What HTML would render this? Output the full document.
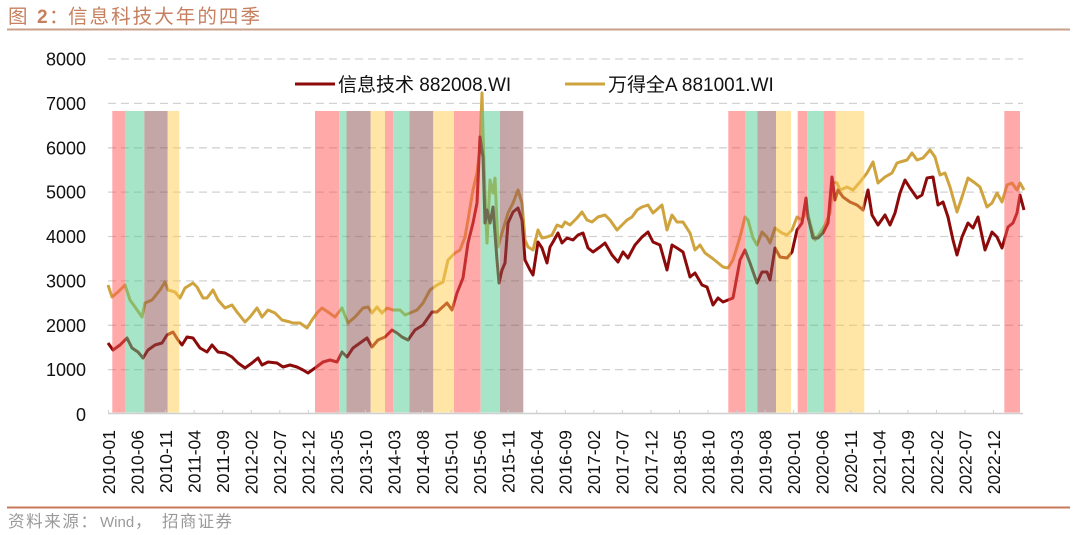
<!DOCTYPE html>
<html>
<head>
<meta charset="utf-8">
<style>
html,body{margin:0;padding:0;background:#fff;}
svg{display:block;}
</style>
</head>
<body>
<svg width="1080" height="535" viewBox="0 0 1080 535" xmlns="http://www.w3.org/2000/svg">
<rect x="0" y="0" width="1080" height="535" fill="#fff"/>
<!-- Title -->
<g font-family="'Liberation Sans','Noto Sans CJK SC',sans-serif" fill="#c6805f">
  <text x="8" y="23" font-size="19.5" font-family="'Noto Sans CJK SC',sans-serif">图</text>
  <text x="37" y="23" font-size="19" font-weight="bold">2</text>
  <text x="49" y="23" font-size="19.5" font-family="'Noto Sans CJK SC',sans-serif">：</text>
  <text x="68" y="23" font-size="19.5" font-family="'Noto Sans CJK SC',sans-serif" textLength="192">信息科技大年的四季</text>
</g>
<line x1="7" y1="29.5" x2="1070" y2="29.5" stroke="#c9a088" stroke-width="2"/>

<!-- gridlines -->
<g stroke="#d2d2d2" stroke-width="1.3" stroke-dasharray="8,5">
  <line x1="108" y1="59" x2="1023" y2="59"/>
  <line x1="108" y1="103.4" x2="1023" y2="103.4"/>
  <line x1="108" y1="147.8" x2="1023" y2="147.8"/>
  <line x1="108" y1="192.1" x2="1023" y2="192.1"/>
  <line x1="108" y1="236.5" x2="1023" y2="236.5"/>
  <line x1="108" y1="280.9" x2="1023" y2="280.9"/>
  <line x1="108" y1="325.3" x2="1023" y2="325.3"/>
  <line x1="108" y1="369.6" x2="1023" y2="369.6"/>
</g>

<!-- y labels -->
<g font-family="'Liberation Sans',sans-serif" font-size="18" fill="#111" text-anchor="end">
  <text x="86" y="65.5">8000</text>
  <text x="86" y="109.9">7000</text>
  <text x="86" y="154.3">6000</text>
  <text x="86" y="198.6">5000</text>
  <text x="86" y="243">4000</text>
  <text x="86" y="287.4">3000</text>
  <text x="86" y="331.8">2000</text>
  <text x="86" y="376.1">1000</text>
  <text x="86" y="421">0</text>
</g>

<!-- series -->
<polyline fill="none" stroke="#cfa33e" stroke-width="3" stroke-linejoin="round" points="108,285 112,297 118,292 125,285 130,300 135,307 142,317 145,303 152,300 160,290 165,282 168,290 175,292 180,298 185,288 193,283 197,287 203,298 207,298 213,290 218,300 225,308 232,305 237,312 245,322 250,317 257,308 262,317 268,310 275,313 282,320 290,322 293,323 300,323 307,328 312,320 317,313 322,308 328,312 335,317 342,308 348,323 355,317 363,308 368,307 372,313 377,307 382,313 387,308 393,310 400,310 405,315 410,313 417,310 423,303 430,290 437,285 443,282 448,260 455,253 460,250 465,237 468,220 473,190 477,173 480,147 482,93 483,133 485,193 487,243 490,180 493,193 495,178 498,247 502,233 505,223 508,213 513,203 518,190 522,203 525,240 528,247 533,250 538,230 542,238 547,237 552,235 557,225 562,227 565,222 570,225 577,218 582,212 587,220 592,222 598,217 605,215 610,220 617,230 622,225 627,220 632,217 637,210 642,207 648,205 653,213 662,205 667,230 672,215 677,222 683,222 690,233 695,250 700,245 705,253 712,258 717,262 723,267 728,268 733,260 740,237 745,217 748,220 753,238 757,245 762,232 767,237 770,243 775,228 782,233 787,235 792,230 797,217 802,220 807,210 810,223 815,240 820,233 825,225 830,213 833,182 837,183 840,190 847,187 853,190 860,182 867,173 873,162 878,183 885,177 892,173 897,163 900,162 907,160 912,153 917,160 923,158 930,150 935,157 940,175 945,173 950,187 957,212 962,197 968,178 975,183 980,187 987,207 992,203 997,193 1002,202 1007,185 1012,183 1017,190 1020,183 1024,190"/>
<polyline fill="none" stroke="#8c0a0a" stroke-width="3" stroke-linejoin="round" points="108,343 113,350 120,345 127,338 132,348 138,352 143,358 148,350 155,345 162,343 167,335 173,332 178,340 182,345 187,337 193,338 200,348 207,352 212,345 218,352 225,353 232,357 238,363 245,368 252,363 258,358 262,365 268,362 277,363 283,367 290,365 297,367 303,370 308,373 315,368 323,362 330,360 337,362 342,352 347,357 353,348 360,343 367,338 372,347 378,340 385,337 392,330 397,333 402,337 408,340 415,330 423,325 432,312 437,312 447,303 452,310 457,293 463,278 468,243 473,223 477,203 480,137 483,157 485,223 487,210 490,223 493,207 497,260 499,283 502,270 505,263 508,223 513,212 518,208 522,220 525,260 530,270 533,275 538,242 542,248 547,263 550,247 553,242 558,233 562,243 567,238 573,240 578,235 583,233 588,248 593,252 600,247 605,243 612,255 618,262 623,252 628,258 635,245 642,237 648,232 653,242 660,245 667,270 672,245 677,248 683,252 690,277 695,273 702,285 707,287 713,305 718,298 723,302 728,300 733,298 740,260 745,250 750,263 757,283 762,272 767,272 770,280 775,248 780,257 787,258 792,252 797,230 802,223 806,198 808,217 813,238 818,238 823,233 828,223 832,177 835,200 838,190 843,197 850,202 857,205 863,210 868,190 872,215 878,225 885,215 890,225 895,213 900,193 905,180 910,188 917,198 922,195 927,178 933,177 938,205 943,202 948,217 953,240 957,255 962,237 968,223 973,228 978,217 985,250 992,232 997,237 1002,248 1008,227 1013,223 1017,213 1020,195 1024,210"/>

<!-- bands -->
<g opacity="0.5">
  <rect x="112.3" y="111" width="12.7" height="301.5" fill="#ff5555"/>
  <rect x="125" y="111" width="19.3" height="301.5" fill="#50cd91"/>
  <rect x="144.3" y="111" width="23.4" height="301.5" fill="#8c5050"/>
  <rect x="167.7" y="111" width="11.6" height="301.5" fill="#ffcd50"/>

  <rect x="315" y="111" width="24.3" height="301.5" fill="#ff5555"/>
  <rect x="339.3" y="111" width="7.2" height="301.5" fill="#50cd91"/>
  <rect x="346.5" y="111" width="24.2" height="301.5" fill="#8c5050"/>
  <rect x="370.7" y="111" width="14.3" height="301.5" fill="#ffcd50"/>
  <rect x="385" y="111" width="8.3" height="301.5" fill="#ff5555"/>
  <rect x="393.3" y="111" width="16" height="301.5" fill="#50cd91"/>
  <rect x="409.3" y="111" width="24" height="301.5" fill="#8c5050"/>
  <rect x="433.3" y="111" width="20.7" height="301.5" fill="#ffcd50"/>
  <rect x="454" y="111" width="26.7" height="301.5" fill="#ff5555"/>
  <rect x="480.7" y="111" width="19.3" height="301.5" fill="#50cd91"/>
  <rect x="500" y="111" width="23.3" height="301.5" fill="#8c5050"/>

  <rect x="728.3" y="111" width="16.7" height="301.5" fill="#ff5555"/>
  <rect x="745" y="111" width="12.3" height="301.5" fill="#50cd91"/>
  <rect x="757.3" y="111" width="18.7" height="301.5" fill="#8c5050"/>
  <rect x="776" y="111" width="15" height="301.5" fill="#ffcd50"/>
  <rect x="797.7" y="111" width="9.6" height="301.5" fill="#ff5555"/>
  <rect x="807.3" y="111" width="16" height="301.5" fill="#50cd91"/>
  <rect x="823.3" y="111" width="12.4" height="301.5" fill="#ff5555"/>
  <rect x="835.7" y="111" width="28.6" height="301.5" fill="#ffcd50"/>

  <rect x="1004.3" y="111" width="15.7" height="301.5" fill="#ff5555"/>
</g>

<!-- x axis -->
<line x1="108" y1="413.5" x2="1023" y2="413.5" stroke="#cfcfcf" stroke-width="1.5"/>
<g stroke="#cfcfcf" stroke-width="1">
  <path d="M108.5 410V414M137.05 410V414M165.6 410V414M194.15 410V414M222.7 410V414M251.25 410V414M279.8 410V414M308.35 410V414M336.9 410V414M365.45 410V414M394 410V414M422.55 410V414M451.1 410V414M479.65 410V414M508.2 410V414M536.75 410V414M565.3 410V414M593.85 410V414M622.4 410V414M650.95 410V414M679.5 410V414M708.05 410V414M736.6 410V414M765.15 410V414M793.7 410V414M822.25 410V414M850.8 410V414M879.35 410V414M907.9 410V414M936.45 410V414M965 410V414M993.55 410V414"/>
</g>
<g font-family="'Liberation Sans',sans-serif" font-size="17.5" fill="#111" text-anchor="end">
  <text transform="translate(114.8,430) rotate(-90)">2010-01</text>
  <text transform="translate(143.35,430) rotate(-90)">2010-06</text>
  <text transform="translate(171.9,430) rotate(-90)">2010-11</text>
  <text transform="translate(200.45,430) rotate(-90)">2011-04</text>
  <text transform="translate(229,430) rotate(-90)">2011-09</text>
  <text transform="translate(257.55,430) rotate(-90)">2012-02</text>
  <text transform="translate(286.1,430) rotate(-90)">2012-07</text>
  <text transform="translate(314.65,430) rotate(-90)">2012-12</text>
  <text transform="translate(343.2,430) rotate(-90)">2013-05</text>
  <text transform="translate(371.75,430) rotate(-90)">2013-10</text>
  <text transform="translate(400.3,430) rotate(-90)">2014-03</text>
  <text transform="translate(428.85,430) rotate(-90)">2014-08</text>
  <text transform="translate(457.4,430) rotate(-90)">2015-01</text>
  <text transform="translate(485.95,430) rotate(-90)">2015-06</text>
  <text transform="translate(514.5,430) rotate(-90)">2015-11</text>
  <text transform="translate(543.05,430) rotate(-90)">2016-04</text>
  <text transform="translate(571.6,430) rotate(-90)">2016-09</text>
  <text transform="translate(600.15,430) rotate(-90)">2017-02</text>
  <text transform="translate(628.7,430) rotate(-90)">2017-07</text>
  <text transform="translate(657.25,430) rotate(-90)">2017-12</text>
  <text transform="translate(685.8,430) rotate(-90)">2018-05</text>
  <text transform="translate(714.35,430) rotate(-90)">2018-10</text>
  <text transform="translate(742.9,430) rotate(-90)">2019-03</text>
  <text transform="translate(771.45,430) rotate(-90)">2019-08</text>
  <text transform="translate(800,430) rotate(-90)">2020-01</text>
  <text transform="translate(828.55,430) rotate(-90)">2020-06</text>
  <text transform="translate(857.1,430) rotate(-90)">2020-11</text>
  <text transform="translate(885.65,430) rotate(-90)">2021-04</text>
  <text transform="translate(914.2,430) rotate(-90)">2021-09</text>
  <text transform="translate(942.75,430) rotate(-90)">2022-02</text>
  <text transform="translate(971.3,430) rotate(-90)">2022-07</text>
  <text transform="translate(999.85,430) rotate(-90)">2022-12</text>
</g>

<!-- legend -->
<rect x="292" y="70" width="495" height="28" fill="#fff" opacity="0"/>
<line x1="295" y1="84" x2="335" y2="84" stroke="#8c0a0a" stroke-width="3"/>
<text x="338" y="91" font-family="'Liberation Sans','Noto Sans CJK SC',sans-serif" font-size="19" fill="#111">信息技术 882008.WI</text>
<line x1="565" y1="84" x2="605" y2="84" stroke="#cfa33e" stroke-width="3"/>
<text x="608" y="91" font-family="'Liberation Sans','Noto Sans CJK SC',sans-serif" font-size="19" fill="#111">万得全A 881001.WI</text>

<!-- footer -->
<line x1="7" y1="507.5" x2="1070" y2="507.5" stroke="#c8785a" stroke-width="2"/>
<g font-family="'Liberation Sans','Noto Sans CJK SC',sans-serif" fill="#9a9a9a">
  <text x="8" y="527" font-size="16.5" textLength="89">资料来源：</text>
  <text x="100" y="527" font-size="15">Wind</text>
  <text x="135" y="527" font-size="16.5">，</text>
  <text x="162" y="527" font-size="16.5" textLength="70">招商证券</text>
</g>
</svg>
</body>
</html>
